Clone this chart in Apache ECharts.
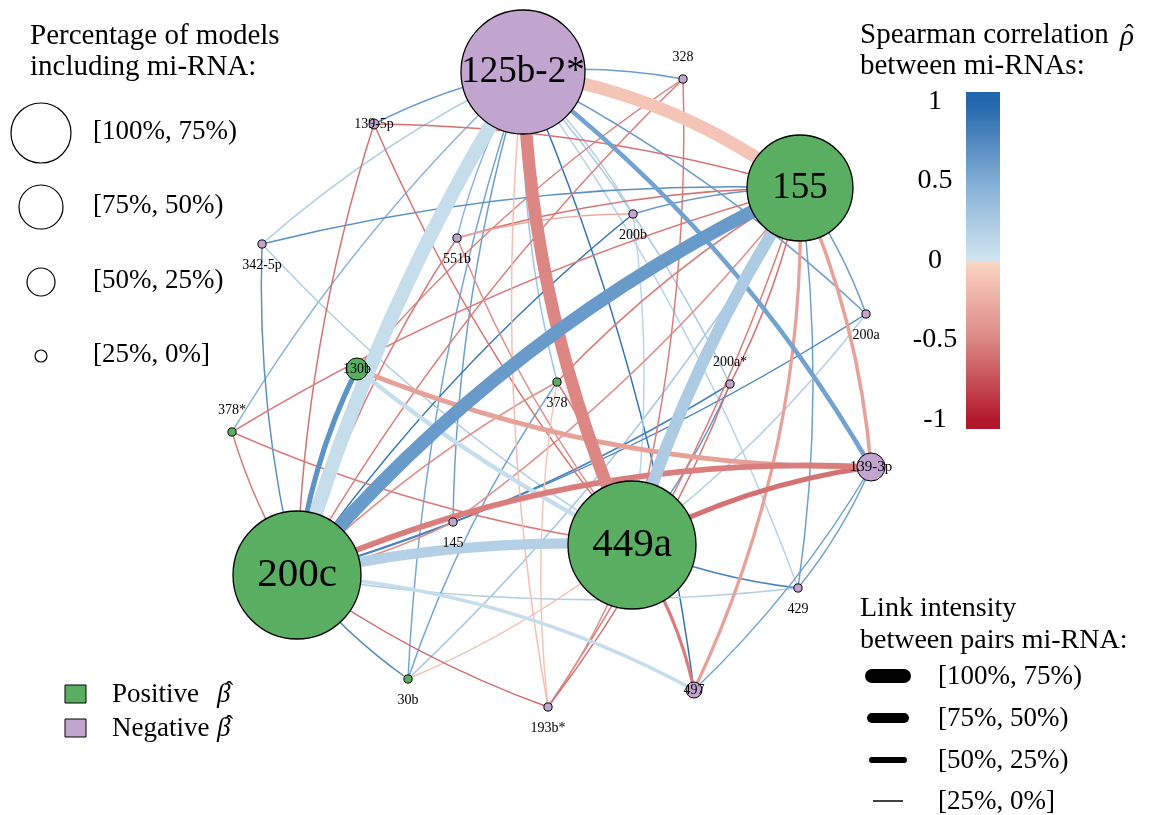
<!DOCTYPE html>
<html>
<head>
<meta charset="utf-8">
<script src="https://cdn.jsdelivr.net/npm/echarts@6/dist/echarts.min.js"></script>
<style>
  html, body { margin: 0; padding: 0; background: #ffffff; }
  #chart { width: 1163px; height: 815px; }
</style>
</head>
<body>
<div id="chart"></div>
<script>
// ---- mi-RNA nodes ----
const nodeNames = ['125b-2*', '155', '449a', '200c', '139-3p', '130b', '497', '139-5p', '328', '342-5p',
                   '551b', '200b', '200a', '200a*', '378', '378*', '145', '429', '30b', '193b*'];
// network layout coordinates (plot units)
const nodeX = [523, 800, 632, 297, 871, 357, 694, 374, 683, 262, 457, 633, 866, 730, 557, 232, 453, 798, 408, 548];
const nodeY = [72, 188, 545, 575, 467, 369, 690, 124, 79, 244, 238, 214, 314, 384, 382, 432, 522, 588, 679, 707];
// percentage of models including each mi-RNA
const nodeShare = [96.7, 81.8, 100, 100, 17.4, 12.4, 7.4, 2.5, 1, 1, 1, 1, 1, 1, 1, 1, 1, 1, 1, 1];
// sign of the estimated coefficient beta
const nodeBeta = [-1, 1, 1, 1, -1, 1, -1, -1, -1, -1, -1, -1, -1, -1, 1, 1, -1, -1, 1, -1];

// ---- links: [from, to, Spearman rho, link intensity %, curveness (null = gentle outward arc)] ----
const links = [
  ['125b-2*', '200c', 0.07, 100, -0.07],
  ['155', '200c', 0.62, 95, -0.11],
  ['125b-2*', '449a', -0.50, 88, -0.10],
  ['155', '449a', 0.22, 85, -0.07],
  ['125b-2*', '155', -0.12, 90, 0.13],
  ['200c', '449a', 0.18, 70, 0.07],
  ['200c', '130b', 0.68, 30, 0.09],
  ['130b', '139-3p', -0.34, 28, -0.10],
  ['200c', '139-3p', -0.54, 36, 0.12],
  ['449a', '139-3p', -0.60, 30, 0.09],
  ['125b-2*', '139-3p', 0.57, 26, 0.10],
  ['155', '139-3p', -0.34, 17, 0.085],
  ['155', '497', -0.34, 15, 0.12],
  ['449a', '497', -0.55, 14, 0.10],
  ['130b', '449a', 0.07, 24, -0.055],
  ['200c', '497', 0.07, 18, 0.11],
  // weaker positive links
  ['125b-2*', '139-5p', 0.62, 1, null],
  ['125b-2*', '342-5p', 0.20, 1, null],
  ['125b-2*', '378*', 0.45, 1, null],
  ['125b-2*', '551b', 0.45, 1, null],
  ['125b-2*', '378', 0.30, 1, null],
  ['125b-2*', '328', 0.60, 1, null],
  ['125b-2*', '497', 0.92, 1, null],
  ['125b-2*', '30b', 0.55, 1, null],
  ['125b-2*', '145', 0.60, 1, null],
  ['125b-2*', '200a*', 0.25, 1, null],
  ['125b-2*', '200a', 0.60, 1, null],
  ['125b-2*', '429', 0.15, 1, null],
  ['125b-2*', '200b', 0.20, 1, null],
  ['155', '342-5p', 0.70, 1, null],
  ['155', '200b', 0.65, 1, null],
  ['155', '200a', 0.60, 1, null],
  ['155', '429', 0.60, 1, null],
  ['155', '30b', 0.25, 1, null],
  ['449a', '342-5p', 0.20, 1, null],
  ['449a', '200b', 0.15, 1, null],
  ['449a', '200a', 0.18, 1, null],
  ['449a', '200a*', 0.65, 1, null],
  ['449a', '429', 0.80, 1, null],
  ['200c', '342-5p', 0.70, 1, null],
  ['200c', '200b', 0.92, 1, null],
  ['200c', '200a', 0.80, 1, null],
  ['200c', '200a*', 0.80, 1, null],
  ['200c', '429', 0.20, 1, null],
  ['200c', '30b', 0.75, 1, null],
  ['139-3p', '429', 0.60, 1, null],
  ['139-3p', '497', 0.60, 1, null],
  ['30b', '378', 0.55, 1, null],
  // weaker negative links
  ['155', '139-5p', -0.60, 1, null],
  ['155', '551b', -0.60, 1, null],
  ['155', '200a*', -0.60, 1, null],
  ['155', '378', -0.55, 1, null],
  ['155', '378*', -0.55, 1, null],
  ['155', '145', -0.45, 1, null],
  ['155', '193b*', -0.55, 1, null],
  ['449a', '139-5p', -0.60, 1, null],
  ['449a', '551b', -0.45, 1, null],
  ['449a', '378', -0.55, 1, null],
  ['449a', '378*', -0.55, 1, null],
  ['449a', '193b*', -0.45, 1, null],
  ['449a', '30b', -0.15, 1, null],
  ['449a', '328', -0.55, 1, null],
  ['200c', '139-5p', -0.60, 1, null],
  ['200c', '551b', -0.55, 1, null],
  ['200c', '378', -0.45, 1, null],
  ['200c', '378*', -0.55, 1, null],
  ['200c', '145', -0.45, 1, null],
  ['200c', '193b*', -0.65, 1, null],
  ['200c', '328', -0.55, 1, null],
  ['130b', '328', -0.55, 1, null],
  ['193b*', '200a*', -0.60, 1, null],
  ['193b*', '378', -0.12, 1, null],
  ['125b-2*', '193b*', -0.15, 1, null],
  ['551b', '200b', -0.30, 1, null]
];

// colour bar tick values
const rhoTicks = [-1, -0.5, 0, 0.5, 1];
const shareClasses = ['[100%, 75%)', '[75%, 50%)', '[50%, 25%)', '[25%, 0%]'];
const intensityClasses = ['[100%, 75%)', '[75%, 50%)', '[50%, 25%)', '[25%, 0%]'];

// ---- styling ----
const SERIF = '"Liberation Serif", "DejaVu Serif", serif';
const GREEN = '#5aae61', PURPLE = '#c2a5cf';
const CENTER = [560, 390];
const POS_STOPS = [[0, [209, 229, 240]], [0.5, [128, 172, 212]], [1, [33, 102, 172]]];
const NEG_STOPS = [[0, [251, 215, 198]], [0.5, [220, 135, 132]], [1, [178, 24, 43]]];

function ramp(stops, t) {
  t = Math.max(0, Math.min(1, t));
  for (let i = 1; i < stops.length; i++) {
    if (t <= stops[i][0]) {
      const a = stops[i - 1], b = stops[i];
      const f = (t - a[0]) / (b[0] - a[0]);
      const c = a[1].map((v, k) => Math.round(v + (b[1][k] - v) * f));
      return 'rgb(' + c.join(',') + ')';
    }
  }
  return 'rgb(' + stops[stops.length - 1][1].join(',') + ')';
}
function rhoColor(r) {
  return r >= 0 ? ramp(POS_STOPS, r) : ramp(NEG_STOPS, -r);
}
function linkWidth(pct) { return 1.35 + 0.127 * pct; }
function nodeDiameter(pct) { return 7 + 1.21 * pct; }

const labelStyle = {
  '125b-2*': { position: 'inside', fontSize: 37 },
  '155': { position: 'inside', fontSize: 37 },
  '449a': { position: 'inside', fontSize: 41 },
  '200c': { position: 'inside', fontSize: 41 },
  '139-3p': { position: 'inside', fontSize: 15 },
  '130b': { position: 'inside', fontSize: 14 },
  '497': { position: 'inside', fontSize: 14 },
  '139-5p': { position: 'inside', fontSize: 14 },
  '328': { position: 'top', fontSize: 14 },
  '378*': { position: 'top', fontSize: 14 },
  '200a*': { position: 'top', fontSize: 14 }
};

const idx = {};
nodeNames.forEach((n, i) => { idx[n] = i; });

const graphNodes = nodeNames.map((name, i) => {
  const ls = labelStyle[name] || { position: 'bottom', fontSize: 14 };
  const d = nodeDiameter(nodeShare[i]);
  return {
    name: name,
    value: [nodeX[i], nodeY[i]],
    symbolSize: d,
    itemStyle: { color: nodeBeta[i] > 0 ? GREEN : PURPLE, borderColor: '#000', borderWidth: d > 40 ? 1.3 : 1 },
    label: {
      show: true, position: ls.position, distance: ls.position === 'inside' ? 0 : 10,
      fontSize: ls.fontSize, fontFamily: SERIF, color: '#000'
    }
  };
});

function outwardCurveness(a, b, mag) {
  const dx = nodeX[b] - nodeX[a], dy = nodeY[b] - nodeY[a];
  const mx = (nodeX[a] + nodeX[b]) / 2 - CENTER[0], my = (nodeY[a] + nodeY[b]) / 2 - CENTER[1];
  return (dy * mx - dx * my) >= 0 ? mag : -mag;
}

const graphLinks = links
  .map(([s, t, rho, pct, curv]) => ({
    source: s, target: t,
    width: linkWidth(pct),
    lineStyle: {
      color: rhoColor(rho), width: linkWidth(pct), opacity: 1,
      curveness: curv === null ? outwardCurveness(idx[s], idx[t], 0.07) : curv
    }
  }))
  .sort((a, b) => a.width - b.width)
  .map(({ source, target, lineStyle }) => ({ source, target, lineStyle }));

// colour bar gradient with a hard break at zero
const RHO_EXT = 1.06;
function barStops() {
  const stops = [];
  const off = r => (RHO_EXT - r) / (2 * RHO_EXT);
  [RHO_EXT, 1, 0.75, 0.5, 0.25, 0].forEach(r => stops.push({ offset: off(r), color: rhoColor(Math.min(r, 1)) }));
  [-0.0001, -0.25, -0.5, -0.75, -1, -RHO_EXT].forEach(r => stops.push({ offset: off(Math.min(r, 0)), color: rhoColor(Math.max(r, -1)) }));
  return stops;
}

// ---- legends ----
const measureCtx = document.createElement('canvas').getContext('2d');
function textWidth(text, size) {
  measureCtx.font = size + 'px ' + SERIF;
  return measureCtx.measureText(text).width;
}
const legendGraphics = [];
function addText(x, y, text, size, extra) {
  legendGraphics.push({
    type: 'text', silent: true, z: 10,
    style: Object.assign({ x: x, y: y, text: text, fill: '#000', font: size + 'px ' + SERIF,
      verticalAlign: 'middle', align: 'left' }, extra || {})
  });
}
// italic symbol with a hat accent over it
function addHatted(x, y, symbol, size, hatDx, hatDy) {
  addText(x, y, symbol, size, { font: 'italic ' + size + 'px ' + SERIF });
  addText(x + hatDx, y + hatDy, 'ˆ', size * 0.9, { font: (size * 0.9) + 'px ' + SERIF });
}
// node size legend
addText(30, 36, 'Percentage of models', 29);
addText(30, 67, 'including mi-RNA:', 29);
const sizeLegendR = [30, 22, 14, 6];
const sizeLegendY = [133, 207, 282, 356];
shareClasses.forEach((lab, i) => {
  legendGraphics.push({ type: 'circle', silent: true, shape: { cx: 41, cy: sizeLegendY[i], r: sizeLegendR[i] },
    style: { fill: '#fff', stroke: '#000', lineWidth: 1.2 } });
  addText(93, sizeLegendY[i] - 1, lab, 27);
});
// beta sign legend
[[GREEN, 'Positive'], [PURPLE, 'Negative']].forEach(([col, lab], i) => {
  const y = 685 + i * 34;
  legendGraphics.push({ type: 'rect', silent: true, shape: { x: 65, y: y, width: 21, height: 18 },
    style: { fill: col, stroke: '#000', lineWidth: 1 } });
  addText(112, y + 10, lab, 27);
  addHatted(217, y + 10, 'β', 27, 8, -2);
});
// colour bar title
addText(860, 35, 'Spearman correlation', 29);
addHatted(860 + textWidth('Spearman correlation ', 29) + 4, 37, 'ρ', 29, 5, -2);
addText(860, 66, 'between mi-RNAs:', 29);
// link intensity legend
addText(860, 609, 'Link intensity', 28);
addText(860, 641, 'between pairs mi-RNA:', 28);
const intensityLegendW = [14, 10, 6, 1.5];
const intensityLegendY = [676, 718, 760, 801];
intensityClasses.forEach((lab, i) => {
  const half = i === 3 ? 15 : 16;
  legendGraphics.push({ type: 'line', silent: true,
    shape: { x1: 888 - half, y1: intensityLegendY[i], x2: 888 + half, y2: intensityLegendY[i] },
    style: { stroke: '#000', lineWidth: intensityLegendW[i], lineCap: i === 3 ? 'butt' : 'round' } });
  addText(938, intensityLegendY[i] + 1, lab, 27);
});

const chart = echarts.init(document.getElementById('chart'), null, { renderer: 'canvas' });
chart.setOption({
  backgroundColor: '#ffffff',
  animation: false,
  grid: [
    { left: 0, right: 0, top: 0, bottom: 0 },
    { left: 966, top: 92, width: 34, height: 337 }
  ],
  xAxis: [
    { gridIndex: 0, type: 'value', min: 0, max: 1163, show: false },
    { gridIndex: 1, type: 'value', min: 0, max: 1, show: false }
  ],
  yAxis: [
    { gridIndex: 0, type: 'value', min: 0, max: 815, inverse: true, show: false },
    {
      gridIndex: 1, type: 'value', min: -RHO_EXT, max: RHO_EXT, position: 'left',
      axisLine: { show: false }, axisTick: { show: false }, splitLine: { show: false },
      axisLabel: {
        customValues: rhoTicks, align: 'center', margin: 31,
        fontFamily: SERIF, fontSize: 28, color: '#000',
        formatter: v => String(v)
      }
    }
  ],
  series: [
    {
      type: 'graph',
      layout: 'none',
      coordinateSystem: 'cartesian2d',
      xAxisIndex: 0, yAxisIndex: 0,
      roam: false,
      silent: true,
      emphasis: { disabled: true },
      symbol: 'circle',
      data: graphNodes,
      links: graphLinks,
      z: 2
    },
    {
      type: 'custom',
      xAxisIndex: 1, yAxisIndex: 1,
      silent: true,
      data: [[0, 1, -RHO_EXT, RHO_EXT]],
      renderItem: function (params, api) {
        const p1 = api.coord([api.value(0), api.value(3)]);
        const p2 = api.coord([api.value(1), api.value(2)]);
        return {
          type: 'rect',
          shape: { x: p1[0], y: p1[1], width: p2[0] - p1[0], height: p2[1] - p1[1] },
          style: { fill: { type: 'linear', x: 0, y: 0, x2: 0, y2: 1, colorStops: barStops() } }
        };
      }
    }
  ],
  graphic: legendGraphics
});
</script>
</body>
</html>
